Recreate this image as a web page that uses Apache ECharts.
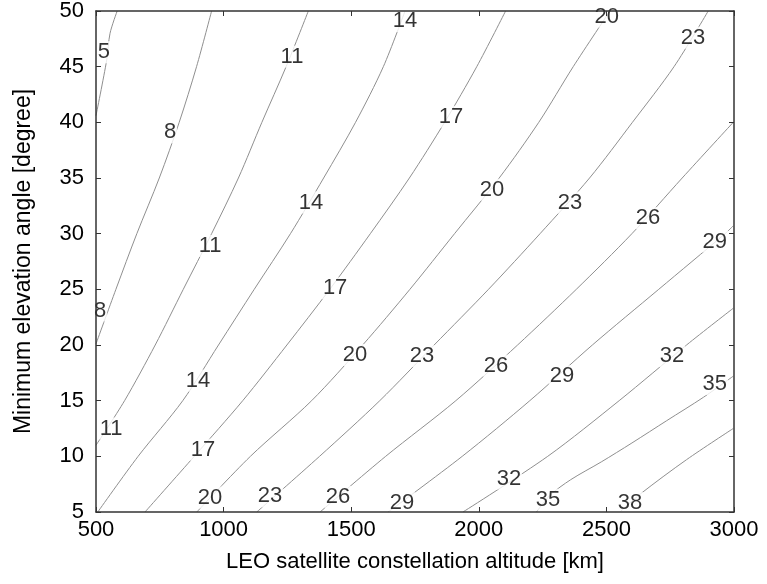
<!DOCTYPE html>
<html><head><meta charset="utf-8">
<script src="https://cdn.jsdelivr.net/npm/echarts@6/dist/echarts.min.js"></script>
<style>html,body{margin:0;padding:0;background:#fff}#c{width:767px;height:584px}</style>
</head><body><div id="c"></div>
<script>
// Contour levels
const levels = [5, 8, 11, 14, 17, 20, 23, 26, 29, 32, 35, 38];

// Contour lines: [altitude km, min elevation deg]
const c5  = [[500,40.6],[542,45.6],[555,48.0],[583,50]];
const c8  = [[500,20.1],[578,25],[660,30],[748,35],[826,40],[894,45],[953,50]];
const c11 = [[500,11.0],[612,15],[732,20],[842,25],[953,30],[1058,35],[1150,40],[1245,45],[1332,50]];
const c14 = [[507,5],[665,10],[840,15],[980,20],[1120,25],[1262,30],[1392,35],[1517,40],[1626,45],[1711,50]];
const c17 = [[692,5],[885,10],[1075,15],[1248,20],[1416,25],[1575,30],[1728,35],[1866,40],[1992,45],[2105,50]];
const c20 = [[895,5],[1105,10],[1345,15],[1545,20],[1730,25],[1905,30],[2080,35],[2235,40],[2370,45],[2514,50]];
const c23 = [[1130,5],[1376,10],[1612,15],[1825,20],[2038,25],[2240,30],[2434,35],[2602,40],[2765,45],[2899,50]];
const c26 = [[1378,5],[1635,10],[1910,15],[2152,20],[2382,25],[2600,30],[2797,35],[2997,40]];
const c29 = [[1645,5],[1935,10],[2200,15],[2445,20],[2705,25],[2965,30],[2997,30.7]];
const c32 = [[1938,5],[2270,10],[2550,15],[2814,20],[2997,23.3]];
const c35 = [[2226,5],[2279,6.5],[2360,7.9],[2480,9.5],[2600,11.2],[2736,13.2],[2880,15.3],[2997,17.2]];
const c38 = [[2553,5],[2632,6.6],[2814,9.7],[2997,12.5]];
const contours = [c5, c8, c11, c14, c17, c20, c23, c26, c29, c32, c35, c38];

// Contour labels: [altitude, elevation, level]
const contourLabels = [
  [531,46.3,5],
  [790,39.1,8],[516,23.1,8],
  [1268,45.9,11],[947,28.9,11],[559,12.5,11],
  [1711,49.1,14],[1342,32.8,14],[900,16.8,14],
  [1891,40.5,17],[1437,25.1,17],[919,10.6,17],
  [2501,49.5,20],[2052,33.95,20],[1515,19.1,20],[947,6.3,20],
  [2839,47.6,23],[2357,32.8,23],[1777,19.0,23],[1182,6.4,23],
  [2663,31.4,26],[2067,18.15,26],[1448,6.35,26],
  [2925,29.3,29],[2326,17.2,29],[1699,5.8,29],
  [2757,19.0,32],[2118,8.0,32],
  [2925,16.5,35],[2271,6.1,35],
  [2592,5.8,38]
];

// Axes
const xMin = 500, xMax = 3000, xStep = 500;
const yMin = 5, yMax = 50, yStep = 5;
const xTitle = 'LEO satellite constellation altitude [km]';
const yTitle = 'Minimum elevation angle [degree]';

const FONT = '"Liberation Sans", Arial, sans-serif';
const boxLine = {show: true, lineStyle: {color: '#333', width: 1.5}};
const inTick = {show: true, inside: true, length: 5, lineStyle: {color: '#333', width: 1}};

const chart = echarts.init(document.getElementById('c'), null, {renderer: 'canvas'});
const series = contours.map((pts, i) => ({
  type: 'line', name: String(levels[i]), data: pts,
  showSymbol: false, symbol: 'none', smooth: 0.3,
  lineStyle: {color: '#8f8f8f', width: 1}, z: 2, silent: true
}));
series.push({
  type: 'scatter', data: contourLabels, symbolSize: 0, z: 5, silent: true,
  label: {
    show: true, position: 'inside',
    formatter: p => String(p.data[2]),
    color: '#000', fontSize: 22, fontFamily: FONT,
    backgroundColor: '#fff', padding: [0, 1]
  }
});

chart.setOption({
  animation: false,
  backgroundColor: '#fff',
  grid: {left: 96, right: 33, top: 11, bottom: 72},
  xAxis: [
    {type: 'value', min: xMin, max: xMax, interval: xStep, position: 'bottom', z: 10,
     name: xTitle, nameLocation: 'middle', nameGap: 39,
     nameTextStyle: {fontSize: 22, fontFamily: FONT, color: '#000'},
     axisLine: boxLine, axisTick: inTick, splitLine: {show: false},
     axisLabel: {fontSize: 22, fontFamily: FONT, color: '#000', margin: 7, formatter: v => String(v)}},
    {type: 'value', min: xMin, max: xMax, interval: xStep, position: 'top', z: 10,
     axisLine: boxLine, axisTick: inTick, splitLine: {show: false}, axisLabel: {show: false}}
  ],
  yAxis: [
    {type: 'value', min: yMin, max: yMax, interval: yStep, position: 'left', z: 10,
     name: yTitle, nameLocation: 'middle', nameGap: 61,
     nameTextStyle: {fontSize: 23, fontFamily: FONT, color: '#000'},
     axisLine: boxLine, axisTick: inTick, splitLine: {show: false},
     axisLabel: {fontSize: 22, fontFamily: FONT, color: '#000', margin: 12, formatter: v => String(v)}},
    {type: 'value', min: yMin, max: yMax, interval: yStep, position: 'right', z: 10,
     axisLine: boxLine, axisTick: inTick, splitLine: {show: false}, axisLabel: {show: false}}
  ],
  series: series
});
</script>
</body></html>
